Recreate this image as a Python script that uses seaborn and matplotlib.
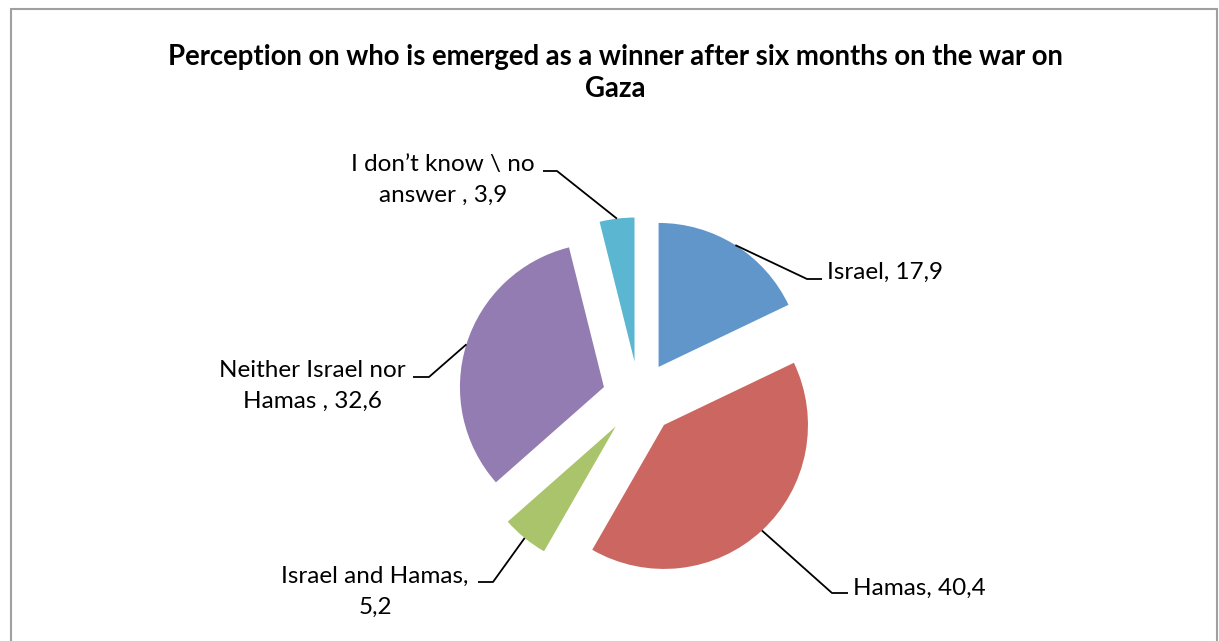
import matplotlib
matplotlib.use('Agg')
import matplotlib.pyplot as plt
import seaborn as sns
import numpy as np
from matplotlib.patches import Rectangle

categories = ['Israel', 'Hamas', 'Israel and Hamas', 'Neither Israel nor Hamas', 'I don\u2019t know \\ no answer']
values = [17.9, 40.4, 5.2, 32.6, 3.9]
label_texts = ['Israel, 17,9', 'Hamas, 40,4', 'Israel and Hamas,\n5,2',
               'Neither Israel nor\nHamas , 32,6', 'I don\u2019t know \\ no\nanswer , 3,9']
colors = ['#6096C9', '#CC6660', '#AAC46C', '#937CB1', '#5BB7D1']

title = 'Perception on who is emerged as a winner after six months on the war on\nGaza'

sns.set_theme(style='white')
plt.rcParams['font.family'] = ['Lato', 'DejaVu Sans']

W, H = 1219, 641
R = 144.0          # pie radius in pixels
CX, CY = 639, 398  # pie centre in pixels (from top-left)

fig = plt.figure(figsize=(W / 100, H / 100), dpi=100)
ax = fig.add_axes([0, 0, 1, 1])


def px(x, y):
    return (x - CX) / R, (CY - y) / R


wedges, _ = ax.pie(values, colors=colors, startangle=90, counterclock=False,
                   explode=[0.255] * len(values), radius=1, center=(0, 0),
                   wedgeprops=dict(linewidth=0))
ax.set_xlim(-CX / R, (W - CX) / R)
ax.set_ylim(-(H - CY) / R, CY / R)
ax.set_aspect('equal')
ax.axis('off')

# label layout: (elbow px, end px, text px, ha)
layout = [
    ((807, 279), (822, 279), (827, 272), 'left'),
    ((832, 593), (848, 593), (853, 588), 'left'),
    ((493, 582), (478, 582), (375, 592), 'center'),
    ((429, 377), (413, 377), (312, 386), 'center'),
    ((557, 171), (543, 171), (443, 180), 'center'),
]

for w, txt, (elb, end, tpos, ha) in zip(wedges, label_texts, layout):
    mid = np.deg2rad((w.theta1 + w.theta2) / 2)
    cx, cy = w.center
    ax_, ay_ = cx + w.r * np.cos(mid), cy + w.r * np.sin(mid)
    ex, ey = px(*elb)
    nx, ny = px(*end)
    ax.plot([ax_, ex, nx], [ay_, ey, ny], color='black', lw=1.3, solid_capstyle='butt')
    tx, ty = px(*tpos)
    ax.text(tx, ty, txt, ha=ha, va='center', fontsize=17.5, color='black', linespacing=1.6)

fig.text(615 / W, 1 - 73 / H, title, ha='center', va='center', fontsize=19.8,
         fontweight='bold', color='black', linespacing=1.24)

fig.patches.append(Rectangle((11 / W, -0.05), (1217 - 11) / W, 1.05 - 9 / H,
                             transform=fig.transFigure, fill=False,
                             edgecolor='#A0A0A0', linewidth=1.5))

fig.savefig('out.png', dpi=100, facecolor='white')
